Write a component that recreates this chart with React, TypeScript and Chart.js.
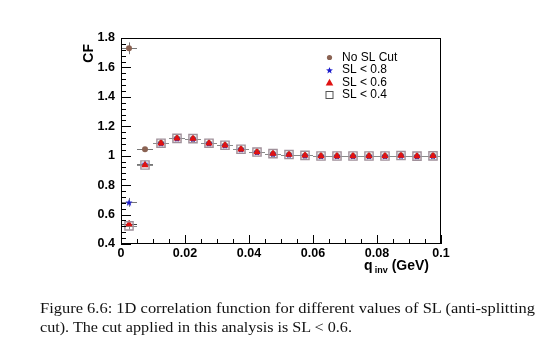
import React, { useEffect, useRef } from 'react';
import { Chart, registerables } from 'chart.js';

Chart.register(...registerables);

// ---- data ----
const binCenters = [
  0.0025, 0.0075, 0.0125, 0.0175, 0.0225, 0.0275, 0.0325, 0.0375, 0.0425, 0.0475,
  0.0525, 0.0575, 0.0625, 0.0675, 0.0725, 0.0775, 0.0825, 0.0875, 0.0925, 0.0975,
];
const binHalfWidth = 0.0025;

const noCut = [1.73, 1.044, 1.087, 1.118, 1.116, 1.085, 1.071, 1.044, 1.025, 1.014,
  1.008, 1.002, 0.998, 0.998, 0.998, 0.998, 0.998, 1.001, 0.997, 0.999];
const noCutErr = [0.04, 0.012, 0.008, 0.008, 0.008, 0.008, 0.007, 0.007, 0.006, 0.006,
  0.006, 0.005, 0.005, 0.005, 0.005, 0.005, 0.005, 0.005, 0.005, 0.005];

const sl08 = [0.683, 0.946, 1.085, 1.118, 1.116, 1.085, 1.071, 1.044, 1.025, 1.014,
  1.008, 1.002, 0.998, 0.998, 0.998, 0.998, 0.998, 1.001, 0.997, 0.999];
const sl08Err = [0.03, 0.012, 0.008, 0.008, 0.008, 0.008, 0.007, 0.007, 0.006, 0.006,
  0.006, 0.005, 0.005, 0.005, 0.005, 0.005, 0.005, 0.005, 0.005, 0.005];

const sl06 = [0.535, 0.937, 1.085, 1.118, 1.116, 1.085, 1.071, 1.044, 1.025, 1.014,
  1.008, 1.002, 0.998, 0.998, 0.998, 0.998, 0.998, 1.001, 0.997, 0.999];
const sl06Err = [0.025, 0.012, 0.008, 0.008, 0.008, 0.008, 0.007, 0.007, 0.006, 0.006,
  0.006, 0.005, 0.005, 0.005, 0.005, 0.005, 0.005, 0.005, 0.005, 0.005];

const sl04 = [0.523, 0.937, 1.085, 1.118, 1.116, 1.085, 1.071, 1.044, 1.025, 1.014,
  1.008, 1.002, 0.998, 0.998, 0.998, 0.998, 0.998, 1.001, 0.997, 0.999];
const sl04Err = [0.025, 0.012, 0.008, 0.008, 0.008, 0.008, 0.007, 0.007, 0.006, 0.006,
  0.006, 0.005, 0.005, 0.005, 0.005, 0.005, 0.005, 0.005, 0.005, 0.005];

const legendLabels = ['No SL Cut', 'SL < 0.8', 'SL < 0.6', 'SL < 0.4'];
const captionLines = [
  'Figure 6.6: 1D correlation function for different values of SL (anti-splitting',
  'cut). The cut applied in this analysis is SL < 0.6.',
];
const xMin = 0;
const xMax = 0.1;
const xMajorStep = 0.02;
const xMinorStep = 0.005;
const yMin = 0.4;
const yMax = 1.8;
const yMajorStep = 0.2;
const yMinorStep = 0.04;

const BROWN = '#8a6252';
const BLUE = '#1c1ccc';
const RED = '#e01212';
const SQUARE = '#a0909a';
const FONT = '"Liberation Sans", Arial, Helvetica, sans-serif';

function starPath(ctx: CanvasRenderingContext2D, cx: number, cy: number, r: number) {
  ctx.beginPath();
  for (let i = 0; i < 10; i++) {
    const rr = i % 2 === 0 ? r : r * 0.42;
    const a = -Math.PI / 2 + (i * Math.PI) / 5;
    const px = cx + rr * Math.cos(a);
    const py = cy + rr * Math.sin(a);
    if (i === 0) ctx.moveTo(px, py);
    else ctx.lineTo(px, py);
  }
  ctx.closePath();
}

function makeStar(color: string, r: number) {
  const c = document.createElement('canvas');
  const s = Math.ceil(2 * r + 2);
  c.width = s;
  c.height = s;
  const g = c.getContext('2d')!;
  g.fillStyle = color;
  starPath(g, s / 2, s / 2 + 0.5, r);
  g.fill();
  return c;
}

function fmt(v: number, digits: number) {
  return Number(v).toFixed(digits).replace(/0+$/, '').replace(/\.$/, '');
}

const errorSeries = [
  { values: noCut, errs: noCutErr, color: '#777777' },
  { values: sl08, errs: sl08Err, color: '#777777' },
  { values: sl06, errs: sl06Err, color: '#444444' },
  { values: sl04, errs: sl04Err, color: '#8a8a8a' },
];

const errorBarPlugin = {
  id: 'errorBars',
  beforeDatasetsDraw(chart: any) {
    const { ctx, scales } = chart;
    const x = scales.x;
    const y = scales.y;
    ctx.save();
    ctx.lineWidth = 1;
    errorSeries.forEach((s) => {
      ctx.strokeStyle = s.color;
      s.values.forEach((v, i) => {
        const c = binCenters[i];
        const px0 = x.getPixelForValue(c - binHalfWidth);
        const px1 = x.getPixelForValue(c + binHalfWidth);
        const pc = x.getPixelForValue(c);
        const py = Math.round(y.getPixelForValue(v)) + 0.5;
        ctx.beginPath();
        ctx.moveTo(px0, py);
        ctx.lineTo(px1, py);
        ctx.stroke();
        const pyTop = y.getPixelForValue(v + s.errs[i]);
        const pyBot = y.getPixelForValue(v - s.errs[i]);
        ctx.beginPath();
        ctx.moveTo(Math.round(pc) + 0.5, pyTop);
        ctx.lineTo(Math.round(pc) + 0.5, pyBot);
        ctx.stroke();
      });
    });
    ctx.restore();
  },
};

const framePlugin = {
  id: 'frameTicks',
  afterDraw(chart: any) {
    const { ctx, chartArea, scales } = chart;
    const { left, right, top, bottom } = chartArea;
    const x = scales.x;
    const y = scales.y;
    ctx.save();
    ctx.strokeStyle = '#000';
    ctx.lineWidth = 1;
    ctx.strokeRect(left + 0.5, top + 0.5, right - left - 1, bottom - top - 1);
    ctx.beginPath();
    const nx = Math.round((xMax - xMin) / xMinorStep);
    for (let i = 0; i <= nx; i++) {
      const v = xMin + i * xMinorStep;
      const major = i % Math.round(xMajorStep / xMinorStep) === 0;
      const px = Math.round(x.getPixelForValue(v)) + 0.5;
      ctx.moveTo(px, bottom);
      ctx.lineTo(px, bottom - (major ? 9 : 5));
    }
    const ny = Math.round((yMax - yMin) / yMinorStep);
    for (let i = 0; i <= ny; i++) {
      const v = yMin + i * yMinorStep;
      const major = i % Math.round(yMajorStep / yMinorStep) === 0;
      const py = Math.round(y.getPixelForValue(v)) + 0.5;
      ctx.moveTo(left, py);
      ctx.lineTo(left + (major ? 10 : 5), py);
    }
    ctx.stroke();

    // axis titles
    ctx.fillStyle = '#000';
    ctx.textBaseline = 'alphabetic';
    const xr = 429;
    const base = 270;
    ctx.font = `bold 14px ${FONT}`;
    const gev = '(GeV)';
    const wGev = ctx.measureText(gev).width;
    ctx.textAlign = 'left';
    ctx.fillText(gev, xr - wGev, base);
    ctx.font = `bold 9px ${FONT}`;
    const inv = 'inv';
    const wInv = ctx.measureText(inv).width;
    ctx.fillText(inv, xr - wGev - 4 - wInv, base + 3);
    ctx.font = `bold 14px ${FONT}`;
    const wq = ctx.measureText('q').width;
    ctx.fillText('q', xr - wGev - 4 - wInv - 2 - wq, base);

    // y title: CF rotated, top aligned
    ctx.save();
    ctx.translate(89, 44);
    ctx.rotate(-Math.PI / 2);
    ctx.font = `bold 14px ${FONT}`;
    ctx.textAlign = 'right';
    ctx.textBaseline = 'middle';
    ctx.fillText('CF', 0, 0);
    ctx.restore();

    // legend
    const lx = 329.5;
    const tx = 342;
    const rows = [57.5, 70, 82.5, 95];
    ctx.font = `12px ${FONT}`;
    ctx.textAlign = 'left';
    ctx.textBaseline = 'middle';
    rows.forEach((ry, i) => {
      if (i === 0) {
        ctx.fillStyle = BROWN;
        ctx.beginPath();
        ctx.arc(lx, ry, 2.6, 0, Math.PI * 2);
        ctx.fill();
      } else if (i === 1) {
        ctx.fillStyle = BLUE;
        starPath(ctx, lx, ry + 0.5, 3.6);
        ctx.fill();
      } else if (i === 2) {
        ctx.fillStyle = RED;
        ctx.beginPath();
        ctx.moveTo(lx, ry - 3.8);
        ctx.lineTo(lx + 3.8, ry + 3);
        ctx.lineTo(lx - 3.8, ry + 3);
        ctx.closePath();
        ctx.fill();
      } else {
        ctx.strokeStyle = '#555';
        ctx.lineWidth = 1;
        ctx.strokeRect(lx - 3.5, ry - 3.5, 7, 7);
      }
      ctx.fillStyle = '#000';
      ctx.fillText(legendLabels[i], tx, ry);
    });
    ctx.restore();
  },
};

export default function App() {
  const ref = useRef<HTMLCanvasElement>(null);
  useEffect(() => {
    const canvas = ref.current!;
    const star = makeStar(BLUE, 3.8);
    const toPts = (vals: number[]) => vals.map((v, i) => ({ x: binCenters[i], y: v }));
    const chart = new Chart(canvas, {
      type: 'scatter',
      data: {
        datasets: [
          {
            label: legendLabels[3],
            data: toPts(sl04),
            pointStyle: 'rect',
            pointRadius: 5.8,
            backgroundColor: 'rgba(0,0,0,0)',
            borderColor: SQUARE,
            borderWidth: 1.4,
          },
          {
            label: legendLabels[2],
            data: toPts(sl06),
            pointStyle: 'triangle',
            pointRadius: 4.4,
            backgroundColor: RED,
            borderColor: RED,
            borderWidth: 0,
          },
          {
            label: legendLabels[1],
            data: toPts(sl08),
            pointStyle: star as any,
            pointRadius: 4,
            backgroundColor: BLUE,
            borderColor: BLUE,
          },
          {
            label: legendLabels[0],
            data: toPts(noCut),
            pointStyle: 'circle',
            pointRadius: 3,
            backgroundColor: BROWN,
            borderColor: BROWN,
            borderWidth: 0,
          },
        ],
      },
      options: {
        animation: false,
        responsive: false,
        devicePixelRatio: 1,
        events: [],
        layout: { padding: { left: 81, right: 109, top: 38, bottom: 86 } },
        plugins: {
          legend: { display: false },
          tooltip: { enabled: false },
          title: { display: false },
        },
        scales: {
          x: {
            type: 'linear',
            min: xMin,
            max: xMax,
            grid: { display: false, drawTicks: false },
            border: { display: false },
            afterFit(scale: any) {
              scale.height = 22;
            },
            ticks: {
              stepSize: xMajorStep,
              autoSkip: false,
              maxRotation: 0,
              minRotation: 0,
              padding: 2,
              color: '#000',
              font: { family: FONT, size: 12.5, weight: 'bold' },
              callback: (v: any) => fmt(Number(v), 2),
            },
          },
          y: {
            type: 'linear',
            min: yMin,
            max: yMax,
            grid: { display: false, drawTicks: false },
            border: { display: false },
            afterFit(scale: any) {
              scale.width = 40;
            },
            ticks: {
              stepSize: yMajorStep,
              autoSkip: false,
              padding: 6,
              color: '#000',
              font: { family: FONT, size: 12.5, weight: 'bold' },
              callback: (v: any) => fmt(Number(v), 1),
            },
          },
        },
      },
      plugins: [errorBarPlugin, framePlugin],
    } as any);
    return () => chart.destroy();
  }, []);

  return (
    <div style={{ position: 'absolute', left: 0, top: 0, width: 550, height: 352, background: '#fff' }}>
      <canvas
        ref={ref}
        width={550}
        height={352}
        style={{ position: 'absolute', left: 0, top: 0, width: 550, height: 352 }}
      />
      <svg
        width={550}
        height={60}
        style={{ position: 'absolute', left: 0, top: 292 }}
        fontFamily='"Liberation Serif", "Times New Roman", serif'
        fontSize={14.5}
        fill="#111"
      >
        <text x={40} y={21} textLength={495} lengthAdjust="spacingAndGlyphs">
          {captionLines[0]}
        </text>
        <text x={40} y={39.5} textLength={312} lengthAdjust="spacingAndGlyphs">
          {captionLines[1]}
        </text>
      </svg>
    </div>
  );
}
